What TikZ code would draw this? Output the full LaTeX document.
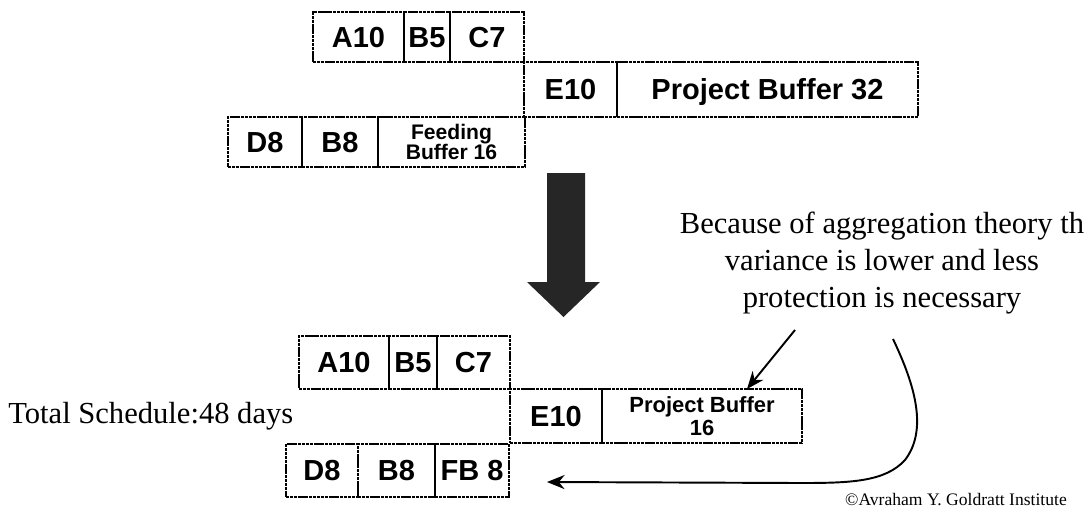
\documentclass[tikz,border=0pt]{standalone}
\usepackage{fontspec}
\setmainfont{Liberation Serif}
\setsansfont{Liberation Sans}
\usepackage{tikz}
\usetikzlibrary{arrows.meta,positioning}

\tikzset{
  task/.style={draw, line width=1.5pt, dash pattern=on 1.8pt off 0.4pt,
    font=\sffamily\bfseries\fontsize{16.5}{16.5}\selectfont,
    text height=11.8pt, text depth=0pt,
    minimum height=10mm, inner sep=0pt, outer sep=0pt},
  note/.style={font=\fontsize{17.4}{21.3}\selectfont, inner sep=0pt}
}

\begin{document}
\begin{tikzpicture}[>={Stealth[length=10pt,width=8pt]},x=0.2mm,y=-0.2mm]
    \useasboundingbox (0,0) rectangle (1086,508);

    \node[task, minimum width=18.2mm, anchor=north west] (a10) at (313,12) {A10};
    \node[task, minimum width=9.2mm, right=0pt of a10] (b5) {B5};
    \node[task, minimum width=14.8mm, right=0pt of b5] (c7) {C7};
    \node[task, minimum width=18.6mm, minimum height=11mm, anchor=north west] (e10) at (c7.south east) {E10};
    \node[task, minimum width=60.2mm, minimum height=11mm, right=0pt of e10] (pb32) {Project Buffer 32};
    \node[task, minimum width=14.8mm, anchor=north west] (d8) at (228,117) {D8};
    \node[task, minimum width=15.2mm, right=0pt of d8] (b8) {B8};
    \node[task, minimum width=29.4mm, right=0pt of b8, align=center, text height=, text depth=,
      font=\sffamily\bfseries\fontsize{12}{11.5}\selectfont] (fb16) {Feeding\\Buffer 16};

    \fill[black!85] (547,173) -- (585,173) -- (585,282) -- (600,282) -- (563.5,317)
      -- (527,282) -- (547,282) -- cycle;

    \node[task, minimum width=18mm, minimum height=10.6mm, anchor=north west] (a10b) at (299,336) {A10};
    \node[task, minimum width=9.6mm, minimum height=10.6mm, right=0pt of a10b] (b5b) {B5};
    \node[task, minimum width=14.6mm, minimum height=10.6mm, right=0pt of b5b] (c7b) {C7};
    \node[task, minimum width=18.4mm, minimum height=10.8mm, anchor=north west] (e10b) at (c7b.south east) {E10};
    \node[task, minimum width=40mm, minimum height=10.8mm, right=0pt of e10b, align=center, text height=, text depth=,
      font=\sffamily\bfseries\fontsize{12.5}{13}\selectfont] (pb16) {Project Buffer\\16};
    \node[task, minimum width=14.4mm, minimum height=10.6mm, anchor=north west] (d8b) at (286,444) {D8};
    \node[task, minimum width=15.4mm, minimum height=10.6mm, right=0pt of d8b] (b8b) {B8};
    \node[task, minimum width=14.8mm, minimum height=10.6mm, right=0pt of b8b] (fb8) {FB 8};

    \node[note, anchor=west] (total) at (8,416) {Total Schedule:48 days};
    \node[note, align=center] (why) at (882,263) {Because of aggregation theory th\\variance is lower and less\\protection is necessary};
    \node[font=\fontsize{10}{10}\selectfont, inner sep=0pt] (copy) at (956,500) {©Avraham Y. Goldratt Institute};

    \coordinate (p1) at (795,330);
    \coordinate (p2) at (893,339);
    \coordinate (p3) at (547,482);

    \draw[->, line width=1.1pt] (p1) -- ([xshift=9mm]pb16.north);
    \draw[->, line width=1.1pt] (p2) .. controls (915,385) and (928,430) .. (905,460)
      .. controls (885,482) and (850,483) .. (800,483) -- (p3);
\end{tikzpicture}
\end{document}
